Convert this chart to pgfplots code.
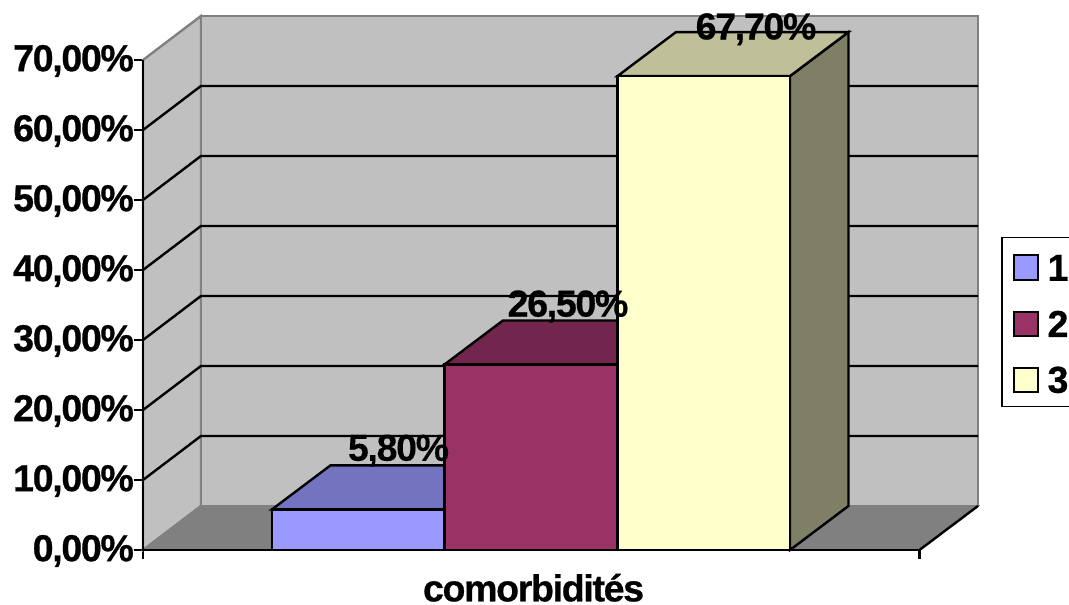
\documentclass[border=0pt]{standalone}
\usepackage{pgfplots}
\pgfplotsset{compat=1.18}
\usepackage{fontspec}
\setmainfont{Liberation Sans}
% heavy, tightly set chart lettering
\newfontfamily\chartbold[FakeBold=0.7,LetterSpace=-3.5]{Liberation Sans Bold}
\newfontfamily\chartmedium[FakeBold=0.1,LetterSpace=-3.5]{Liberation Sans Bold}
\newcommand{\chartfont}{\fontsize{37.5}{37.5}\chartbold}
\newcommand{\chartfontlight}{\fontsize{37.5}{37.5}\chartmedium}
\definecolor{wall}{HTML}{C0C0C0}
\definecolor{walledge}{HTML}{808080}
\definecolor{floorc}{HTML}{808080}
\definecolor{barA}{HTML}{9999FF}
\definecolor{barAtop}{HTML}{7373BF}
\definecolor{barB}{HTML}{993366}
\definecolor{barBtop}{HTML}{73264D}
\definecolor{barC}{HTML}{FFFFCC}
\definecolor{barCtop}{HTML}{BFBF99}
\definecolor{barCside}{HTML}{7F7F66}
\begin{document}
\begin{tikzpicture}[x=1pt,y=1pt]
\begin{axis}[
  scale only axis, width=776.5pt, height=490pt,
  xmin=143, xmax=919.5, ymin=0, ymax=70,
  clip=false,
  axis lines*=left,
  axis line style={-, line width=2.4pt, black},
  tick style={line width=2.4pt, black},
  tick align=outside,
  major tick length=9pt,
  xtick={143,919.5}, xticklabels={},
  ytick={0,10,20,30,40,50,60,70},
  yticklabels={{0,00\%},{10,00\%},{20,00\%},{30,00\%},{40,00\%},{50,00\%},{60,00\%},{70,00\%}},
  yticklabel style={font=\chartfont, inner sep=0pt, xshift=0pt, yshift=-1pt},
]
% side wall and back wall
\addplot[fill=wall, draw=walledge, line width=2.4pt] coordinates {(143,0) (201,6.29) (201,76.29) (143,70)} -- cycle;
\addplot[fill=wall, draw=walledge, line width=2.4pt] coordinates {(201,6.29) (978,6.29) (978,76.29) (201,76.29)} -- cycle;
% floor
\addplot[fill=floorc, draw=walledge, line width=1.5pt] coordinates {(143,0) (201,6.29) (978,6.29) (919.5,0)} -- cycle;
\addplot[black, line width=2.4pt] coordinates {(919.5,0) (978,6.29)};
% gridlines along both walls
\addplot[black, line width=2.4pt] coordinates {(143,10) (201,16.29) (978,16.29)};
\addplot[black, line width=2.4pt] coordinates {(143,20) (201,26.29) (978,26.29)};
\addplot[black, line width=2.4pt] coordinates {(143,30) (201,36.29) (978,36.29)};
\addplot[black, line width=2.4pt] coordinates {(143,40) (201,46.29) (978,46.29)};
\addplot[black, line width=2.4pt] coordinates {(143,50) (201,56.29) (978,56.29)};
\addplot[black, line width=2.4pt] coordinates {(143,60) (201,66.29) (978,66.29)};
% axis lines over the fills
\addplot[black, line width=2.4pt] coordinates {(143,70) (143,0) (919.5,0)};
% bar 1: 5.8
\addplot[fill=barAtop, draw=black, line width=2.4pt] coordinates {(272,5.8) (330.5,12.09) (503,12.09) (444.5,5.8)} -- cycle;
\addplot[fill=barA, draw=black, line width=2.4pt] coordinates {(272,0) (272,5.8) (444.5,5.8) (444.5,0)} -- cycle;
% bar 2: 26.5
\addplot[fill=barBtop, draw=black, line width=2.4pt] coordinates {(444.5,26.5) (503,32.79) (676,32.79) (617.5,26.5)} -- cycle;
\addplot[fill=barB, draw=black, line width=2.4pt] coordinates {(444.5,0) (444.5,26.5) (617.5,26.5) (617.5,0)} -- cycle;
% bar 3: 67.7
\addplot[fill=barCside, draw=black, line width=2.4pt] coordinates {(790,0) (848.5,6.29) (848.5,73.99) (790,67.7)} -- cycle;
\addplot[fill=barCtop, draw=black, line width=2.4pt] coordinates {(617.5,67.7) (676,73.99) (848.5,73.99) (790,67.7)} -- cycle;
\addplot[fill=barC, draw=black, line width=2.4pt] coordinates {(617.5,0) (617.5,67.7) (790,67.7) (790,0)} -- cycle;
% value labels
\node[font=\chartfontlight, inner sep=0pt] at (axis cs:398.5,14.2) {5,80\%};
\node[font=\chartfont, inner sep=0pt] at (axis cs:568,34.8) {26,50\%};
\node[font=\chartfont, inner sep=0pt] at (axis cs:756,74.4) {67,70\%};
\node[font=\chartfont, inner sep=0pt] at (axis cs:533.5,-5.4) {comorbidités};
% legend
\addplot[fill=white, draw=black, line width=1.8pt] coordinates {(1002,44.64) (1002,20.5) (1090,20.5) (1090,44.64)} -- cycle;
\addplot[fill=barA, draw=black, line width=1.8pt] coordinates {(1014,42.14) (1014,38.57) (1038,38.57) (1038,42.14)} -- cycle;
\addplot[fill=barB, draw=black, line width=1.8pt] coordinates {(1014,34.0) (1014,30.57) (1038,30.57) (1038,34.0)} -- cycle;
\addplot[fill=barC, draw=black, line width=1.8pt] coordinates {(1014,26.0) (1014,22.57) (1038,22.57) (1038,26.0)} -- cycle;
\node[font=\chartfont, inner sep=0pt] at (axis cs:1058,40.3) {1};
\node[font=\chartfont, inner sep=0pt] at (axis cs:1058,32.3) {2};
\node[font=\chartfont, inner sep=0pt] at (axis cs:1058,24.3) {3};
\coordinate (pagetl) at (axis cs:0,78.571);
\coordinate (pagebr) at (axis cs:1069,-7.857);
\end{axis}
\pgfresetboundingbox
\useasboundingbox (pagetl) rectangle (pagebr);
\end{tikzpicture}
\end{document}
